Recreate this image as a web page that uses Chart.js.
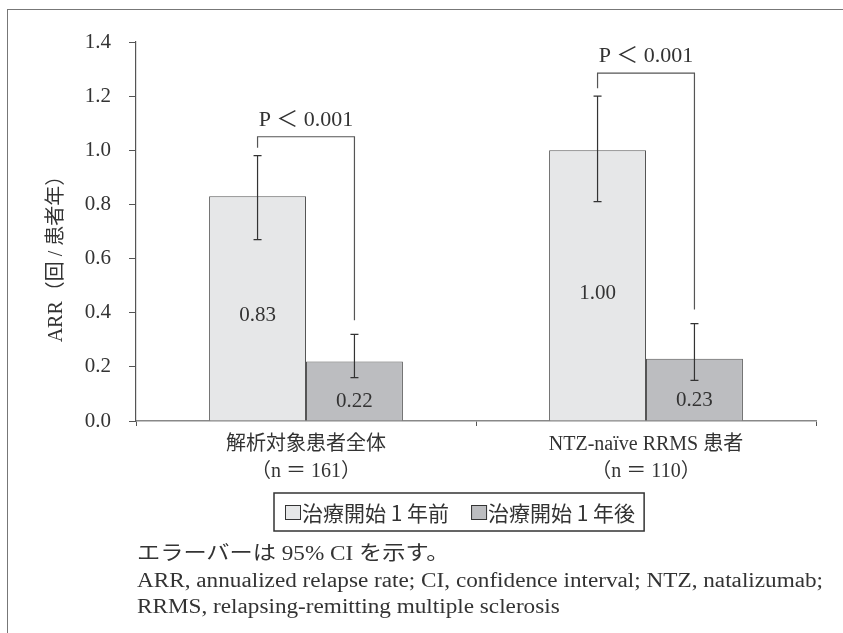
<!DOCTYPE html>
<html>
<head>
<meta charset="utf-8">
<script src="https://cdn.jsdelivr.net/npm/chart.js@4"></script>
<style>
  html, body { margin: 0; padding: 0; background: #fff; }
  body { width: 843px; height: 633px; position: relative; overflow: hidden; }
  .frame {
    position: absolute; left: 7px; top: 9px; width: 900px; height: 700px;
    border-left: 1.5px solid #777; border-top: 1.5px solid #777;
  }
  #wrap { position: absolute; left: 0; top: 0; width: 843px; height: 633px; }
  .notes {
    position: absolute; left: 137px; top: 540px;
    font-family: "Liberation Serif", "Noto Sans CJK JP", serif;
    font-size: 20px; line-height: 26.5px; color: #333; white-space: nowrap;
    transform: scaleX(1.16); transform-origin: left top;
  }
</style>
</head>
<body>
<div class="frame"></div>
<div id="wrap"><canvas id="arrChart" width="843" height="633"></canvas></div>
<div class="notes">
  <div>エラーバーは 95% CI を示す。</div>
  <div>ARR, annualized relapse rate; CI, confidence interval; NTZ, natalizumab;</div>
  <div>RRMS, relapsing-remitting multiple sclerosis</div>
</div>
<script>
const categories = [["解析対象患者全体", "（n ＝ 161）"], ["NTZ-naïve RRMS 患者", "（n ＝ 110）"]];
const seriesNames = ["治療開始 1 年前", "治療開始 1 年後"];
const beforeValues = [0.83, 1.0];
const afterValues = [0.22, 0.23];
const beforeCiLow = [0.67, 0.81];
const beforeCiHigh = [0.98, 1.2];
const afterCiLow = [0.16, 0.15];
const afterCiHigh = [0.32, 0.36];
const bracketLevels = [1.05, 1.285];
const pLabels = ["P ＜ 0.001", "P ＜ 0.001"];
const yTicks = [0, 0.2, 0.4, 0.6, 0.8, 1.0, 1.2, 1.4];
const yTitle = "ARR（回 / 患者年）";

const serif = "'Liberation Serif', 'Noto Sans CJK JP', serif";
const textColor = "#333";
const ciLow = [beforeCiLow, afterCiLow];
const ciHigh = [beforeCiHigh, afterCiHigh];

// error bars, p-value brackets, value labels, y title and boxed legend
const annotations = {
  id: "annotations",
  afterDatasetsDraw(chart) {
    const ctx = chart.ctx;
    const y = chart.scales.y;
    ctx.save();
    ctx.strokeStyle = "#333";
    ctx.lineWidth = 1.2;

    // error bars
    chart.data.datasets.forEach((ds, i) => {
      chart.getDatasetMeta(i).data.forEach((bar, j) => {
        const top = y.getPixelForValue(ciHigh[i][j]);
        const bottom = y.getPixelForValue(ciLow[i][j]);
        ctx.beginPath();
        ctx.moveTo(bar.x, top);
        ctx.lineTo(bar.x, bottom);
        ctx.moveTo(bar.x - 4, top);
        ctx.lineTo(bar.x + 4, top);
        ctx.moveTo(bar.x - 4, bottom);
        ctx.lineTo(bar.x + 4, bottom);
        ctx.stroke();
      });
    });

    // value labels inside bars
    const labelPos = [0.47, 0.32];
    ctx.fillStyle = textColor;
    ctx.font = "21px " + serif;
    ctx.textAlign = "center";
    ctx.textBaseline = "middle";
    chart.data.datasets.forEach((ds, i) => {
      chart.getDatasetMeta(i).data.forEach((bar, j) => {
        const ly = bar.base - (bar.base - bar.y) * labelPos[i];
        ctx.fillText(ds.data[j].toFixed(2), bar.x, ly);
      });
    });

    // brackets
    const left = chart.getDatasetMeta(0).data;
    const right = chart.getDatasetMeta(1).data;
    ctx.strokeStyle = "#555";
    ctx.font = "22px " + serif;
    bracketLevels.forEach((lvl, j) => {
      const top = y.getPixelForValue(lvl);
      const lx = left[j].x;
      const rx = right[j].x;
      ctx.beginPath();
      ctx.moveTo(lx, y.getPixelForValue(beforeCiHigh[j]) - 8);
      ctx.lineTo(lx, top);
      ctx.lineTo(rx, top);
      ctx.lineTo(rx, y.getPixelForValue(afterCiHigh[j]) - 14);
      ctx.stroke();
      ctx.fillText(pLabels[j], (lx + rx) / 2, top - 17);
    });

    // y axis title
    ctx.save();
    ctx.translate(57, 254);
    ctx.rotate(-Math.PI / 2);
    ctx.font = "20px " + serif;
    ctx.fillText(yTitle, 0, 0);
    ctx.restore();

    // legend
    ctx.font = "21px 'Noto Sans CJK JP', " + serif;
    ctx.textAlign = "left";
    const boxLeft = 274, boxTop = 493, boxH = 38;
    let x = boxLeft + 11;
    chart.data.datasets.forEach((ds, i) => {
      ctx.fillStyle = ds.backgroundColor;
      ctx.fillRect(x, boxTop + 12, 16, 15);
      ctx.strokeStyle = "#333";
      ctx.lineWidth = 1;
      ctx.strokeRect(x + 0.5, boxTop + 12.5, 15, 14);
      x += 17;
      ctx.fillStyle = textColor;
      ctx.fillText(ds.label, x, boxTop + boxH / 2 + 1);
      x += ctx.measureText(ds.label).width + 22;
    });
    ctx.strokeStyle = "#333";
    ctx.lineWidth = 1.5;
    ctx.strokeRect(boxLeft, boxTop, x - 22 - boxLeft + 9, boxH);
    ctx.restore();
  },
};

new Chart(document.getElementById("arrChart"), {
  type: "bar",
  data: {
    labels: categories,
    datasets: [
      {
        label: seriesNames[0],
        data: beforeValues,
        backgroundColor: "#e6e7e8",
        borderColor: "#555",
        borderWidth: 1,
      },
      {
        label: seriesNames[1],
        data: afterValues,
        backgroundColor: "#bcbdc0",
        borderColor: "#555",
        borderWidth: 1,
      },
    ],
  },
  options: {
    responsive: false,
    animation: false,
    layout: { padding: { top: 42, left: 0, right: 27, bottom: 142 } },
    datasets: { bar: { barPercentage: 1, categoryPercentage: 0.57 } },
    plugins: { legend: { display: false }, tooltip: { enabled: false } },
    scales: {
      x: {
        afterFit(scale) { scale.height = 70; },
        border: { color: "#888", width: 1.5 },
        grid: { offset: true, drawOnChartArea: false, tickLength: 5, color: "#555" },
        ticks: {
          color: textColor,
          padding: 5,
          font: { family: serif, size: 20, lineHeight: 1.35 },
        },
      },
      y: {
        min: 0,
        max: 1.4,
        afterFit(scale) { scale.width = 136; },
        afterBuildTicks(scale) { scale.ticks = yTicks.map((v) => ({ value: v })); },
        border: { color: "#555", width: 1.2 },
        grid: { drawOnChartArea: false, tickLength: 7, color: "#555" },
        ticks: {
          color: textColor,
          padding: 18,
          font: { family: serif, size: 21 },
          callback: (v) => v.toFixed(1),
        },
      },
    },
  },
  plugins: [annotations],
});
</script>
</body>
</html>
